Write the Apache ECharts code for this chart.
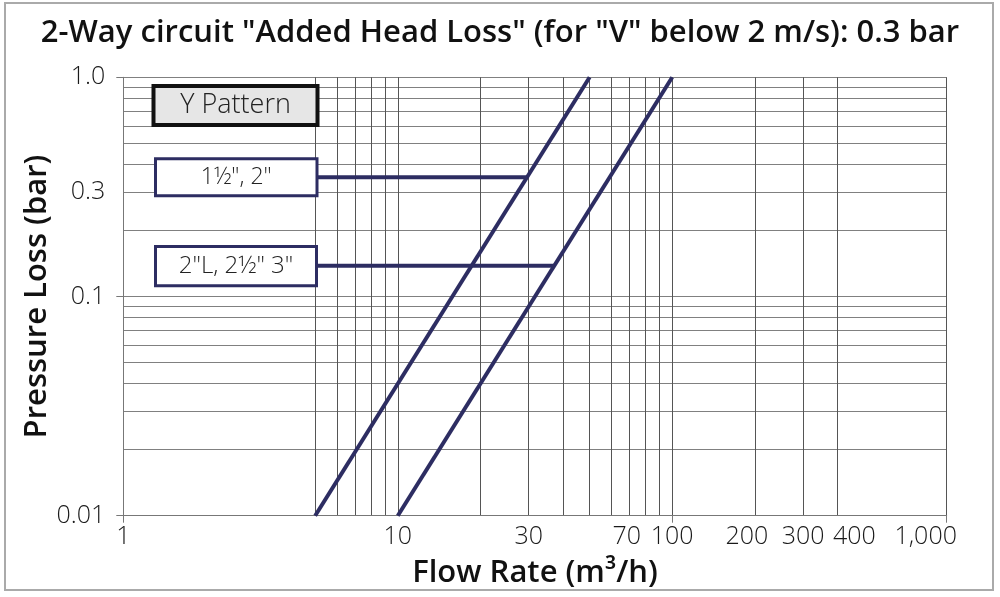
<!DOCTYPE html>
<html>
<head>
<meta charset="utf-8">
<script src="https://cdn.jsdelivr.net/npm/echarts@6/dist/echarts.min.js"></script>
<style>
  html, body { margin: 0; padding: 0; background: #fff; }
  #chart { width: 1000px; height: 597px; }
</style>
</head>
<body>
<div id="chart"></div>
<script>
// flow rate (m3/h) vs pressure loss (bar), log-log
const lineSmallFlow = [5, 50];
const lineSmallLoss = [0.01, 1.0];
const lineLargeFlow = [10, 100];
const lineLargeLoss = [0.01, 1.0];

// connectors from label boxes to the curves
const connSmallFlow = [5, 29.6];
const connSmallLoss = [0.35, 0.35];
const connLargeFlow = [5, 37.1];
const connLargeLoss = [0.138, 0.138];

const boxLabels = ['Y Pattern', '1½", 2"', '2"L, 2½" 3"'];

const xGridValues = [1, 5, 6, 7, 8, 9, 10, 20, 30, 40, 50, 60, 70, 80, 90, 100, 200, 300, 400, 1000];
const xLabelValues = [1, 10, 30, 70, 100, 200, 300, 400, 1000];
const xTickValues = [1, 100, 1000];
const yGridValues = [0.01, 0.02, 0.03, 0.04, 0.05, 0.06, 0.07, 0.08, 0.09,
                     0.1, 0.2, 0.3, 0.4, 0.5, 0.6, 0.7, 0.8, 0.9, 1.0];
const yLabelValues = [0.01, 0.1, 0.3, 1.0];
const yTickValues = [0.01, 0.1, 1.0];

const navy = '#2d2d62';
const font = '"Open Sans", sans-serif';

function pairs(xs, ys) {
    return xs.map((x, i) => [x, ys[i]]);
}

const chart = echarts.init(document.getElementById('chart'), null, { renderer: 'canvas' });

// a few labels sit off their grid line in the original, nudge them with padding
const xLabelFmt = v => {
    const txt = v === 1000 ? '1,000' : String(v);
    if (v === 400) return '{r|' + txt + '}';
    if (v === 1000) return '{l|' + txt + '}';
    if (v === 200) return '{m|' + txt + '}';
    if (v === 70) return '{s|' + txt + '}';
    return txt;
};

const labelStyle = { fontFamily: font, fontSize: 25, fontWeight: 300, color: '#1a1a1a' };
const nameStyle = { fontFamily: font, fontSize: 31, fontWeight: 600, color: '#111' };

function box(x, y, w, h, stroke, lw, fill, text, size) {
    return [{
        type: 'rect', z: 100,
        shape: { x: x, y: y, width: w, height: h },
        style: { fill: fill, stroke: stroke, lineWidth: lw }
    }, {
        type: 'text', z: 101,
        x: x + w / 2, y: y + h / 2,
        style: {
            text: text, fontFamily: font, fontSize: size, fontWeight: 300, fill: '#222',
            align: 'center', verticalAlign: 'middle'
        }
    }];
}

const option = {
    animation: false,
    title: {
        text: '2-Way circuit "Added Head Loss" (for "V" below 2 m/s): 0.3 bar',
        left: 'center',
        top: 13,
        textStyle: { fontFamily: font, fontSize: 31, fontWeight: 600, color: '#111' }
    },
    grid: { left: 123.3, right: 53.3, top: 77.3, bottom: 81.3 },
    xAxis: [{
        type: 'log',
        min: 1,
        max: 1000,
        name: 'Flow Rate (m³/h)',
        nameLocation: 'middle',
        nameGap: 42,
        nameMoveOverlap: false,
        nameTextStyle: nameStyle,
        axisLine: { show: true, lineStyle: { color: '#777', width: 1 } },
        axisTick: { show: false, customValues: xGridValues },
        axisLabel: Object.assign({
            customValues: xLabelValues,
            margin: 9,
            formatter: xLabelFmt,
            rich: {
                r: Object.assign({ padding: [0, 0, 0, 34] }, labelStyle),
                l: Object.assign({ padding: [0, 42, 0, 0] }, labelStyle),
                m: Object.assign({ padding: [0, 16, 0, 0] }, labelStyle),
                s: Object.assign({ padding: [0, 6, 0, 0] }, labelStyle)
            }
        }, labelStyle),
        splitLine: { show: true, lineStyle: { color: '#555', width: 1 } }
    }, {
        type: 'log',
        min: 1,
        max: 1000,
        position: 'bottom',
        offset: 0,
        axisLine: { show: false },
        axisLabel: { show: false },
        splitLine: { show: false },
        axisTick: { show: true, customValues: xTickValues, length: 7, lineStyle: { color: '#777' } }
    }],
    yAxis: [{
        type: 'log',
        min: 0.01,
        max: 1,
        name: 'Pressure Loss (bar)',
        nameLocation: 'middle',
        nameRotate: 90,
        nameGap: 71,
        nameMoveOverlap: false,
        nameTextStyle: nameStyle,
        axisLine: { show: true, lineStyle: { color: '#777', width: 1 } },
        axisTick: { show: false, customValues: yGridValues },
        axisLabel: Object.assign({
            customValues: yLabelValues,
            margin: 18,
            formatter: v => (v === 1 ? '1.0' : String(v))
        }, labelStyle),
        splitLine: { show: true, lineStyle: { color: '#808080', width: 1.2 } }
    }, {
        type: 'log',
        min: 0.01,
        max: 1,
        position: 'left',
        offset: 0,
        axisLine: { show: false },
        axisLabel: { show: false },
        splitLine: { show: false },
        axisTick: { show: true, customValues: yTickValues, length: 7, lineStyle: { color: '#777' } }
    }],
    series: [
        { type: 'line', data: pairs(lineSmallFlow, lineSmallLoss) },
        { type: 'line', data: pairs(lineLargeFlow, lineLargeLoss) },
        { type: 'line', data: pairs(connSmallFlow, connSmallLoss) },
        { type: 'line', data: pairs(connLargeFlow, connLargeLoss) }
    ].map(s => Object.assign(s, {
        showSymbol: false,
        symbol: 'none',
        lineStyle: { color: navy, width: 4 },
        z: 5
    })),
    graphic: [
        {
            type: 'rect', z: 0, silent: true,
            shape: { x: 5, y: 3, width: 988, height: 587 },
            style: { fill: 'none', stroke: '#aaa', lineWidth: 2 }
        }
    ].concat(
        box(153.5, 86, 164, 39, '#111', 4, '#e6e6e6', boxLabels[0], 27),
        box(155.5, 158.8, 161.5, 37, navy, 3, '#fff', boxLabels[1], 23),
        box(155.5, 246.5, 161, 39.3, navy, 3, '#fff', boxLabels[2], 24)
    )
};

chart.setOption(option);
</script>
</body>
</html>
